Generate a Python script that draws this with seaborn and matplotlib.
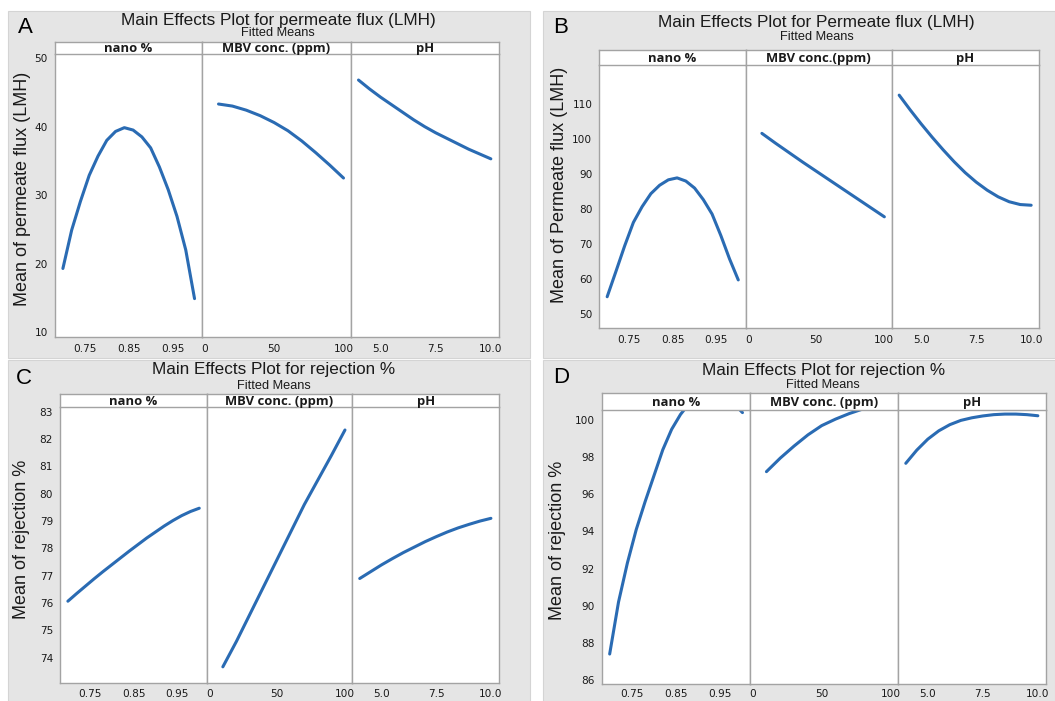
import matplotlib
matplotlib.use("Agg")
import matplotlib.pyplot as plt
import seaborn as sns
import pandas as pd
from matplotlib.patches import Rectangle

# factor levels (x)
nano_levels = [0.70, 0.72, 0.74, 0.76, 0.78, 0.80, 0.82, 0.84,
               0.86, 0.88, 0.90, 0.92, 0.94, 0.96, 0.98, 1.00]
mbv_levels = [10, 20, 30, 40, 50, 60, 70, 80, 90, 100]
ph_levels = [4.0, 4.5, 5.0, 5.5, 6.0, 6.5, 7.0, 7.5, 8.0, 8.5, 9.0, 9.5, 10.0]

# A - permeate flux (LMH)
flux_a_nano = [19.3, 24.9, 29.1, 32.9, 35.7, 38.0, 39.3, 39.85,
               39.5, 38.5, 36.9, 34.1, 30.8, 26.9, 22.0, 14.9]
flux_a_mbv = [43.3, 43.0, 42.4, 41.6, 40.6, 39.4, 37.9, 36.2, 34.4, 32.5]
flux_a_ph = [46.8, 45.5, 44.3, 43.2, 42.1, 41.0, 40.0, 39.1, 38.3, 37.5, 36.7, 36.0, 35.3]

# B - Permeate flux (LMH)
flux_b_nano = [55.0, 62.2, 69.5, 76.2, 80.7, 84.4, 86.8, 88.35,
               88.9, 88.0, 86.0, 82.7, 78.6, 72.5, 65.8, 59.8]
flux_b_mbv = [101.6, 98.8, 96.1, 93.4, 90.8, 88.2, 85.6, 83.0, 80.4, 77.8]
flux_b_ph = [112.5, 108.3, 104.3, 100.5, 96.9, 93.5, 90.4, 87.7, 85.4, 83.5, 82.1, 81.3, 81.1]

# C - rejection %
rej_c_nano = [76.07, 76.35, 76.62, 76.89, 77.15, 77.4, 77.65, 77.9,
              78.14, 78.38, 78.6, 78.82, 79.02, 79.2, 79.35, 79.47]
rej_c_mbv = [73.67, 74.6, 75.6, 76.6, 77.6, 78.6, 79.6, 80.5, 81.4, 82.33]
rej_c_ph = [76.9, 77.15, 77.4, 77.63, 77.85, 78.05, 78.25, 78.43, 78.6, 78.75, 78.88, 79.0, 79.1]

# D - rejection %
rej_d_nano = [87.4, 90.2, 92.3, 94.1, 95.6, 97.0, 98.4, 99.5,
              100.3, 100.9, 101.3, 101.5, 101.5, 101.3, 100.9, 100.4]
rej_d_mbv = [97.22, 97.95, 98.6, 99.2, 99.7, 100.05, 100.35, 100.6, 100.8, 100.95]
rej_d_ph = [97.67, 98.38, 98.97, 99.42, 99.75, 99.98, 100.12, 100.22, 100.29, 100.32, 100.32, 100.29, 100.23]

W, H = 1055, 701
LINE = "#2a6bb3"
FRAME = "#a3a3a3"
BG = "#e5e5e5"
TXT = "#1a1a1a"

sns.set_theme(style="white")
plt.rcParams["font.family"] = ["Liberation Sans", "DejaVu Sans"]


def fx(px):
    return px / W


def fy(py):
    return 1 - py / H


def draw_panel(fig, frame, strip_bot, divs, ylim, yticks, series, strips,
               title, title_xy, sub_y, letter, letter_xy, ylabel, ylabel_xy, xpad=2):
    x0, top, x1, bot = frame
    edges = [x0, divs[0], divs[1], x1]
    xlims = [(0.682, 1.017), (-1.9, 105.4), (3.66, 10.37)]
    xticks = [([0.75, 0.85, 0.95], ["0.75", "0.85", "0.95"]),
              ([0, 50, 100], ["0", "50", "100"]),
              ([5.0, 7.5, 10.0], ["5.0", "7.5", "10.0"])]
    levels = [nano_levels, mbv_levels, ph_levels]
    for i in range(3):
        ax = fig.add_axes([fx(edges[i]), fy(bot), fx(edges[i + 1]) - fx(edges[i]),
                           fy(strip_bot) - fy(bot)])
        df = pd.DataFrame({"level": levels[i], "mean": series[i]})
        sns.lineplot(data=df, x="level", y="mean", ax=ax, color=LINE, lw=2.2)
        ax.set_xlim(*xlims[i])
        ax.set_ylim(*ylim)
        ax.set_xticks(xticks[i][0])
        ax.set_xticklabels(xticks[i][1])
        ax.set_xlabel("")
        ax.set_ylabel("")
        ax.set_facecolor("white")
        for s in ax.spines.values():
            s.set_color(FRAME)
            s.set_linewidth(1.0)
        ax.spines["top"].set_visible(False)
        ax.tick_params(axis="both", direction="out", length=3, width=0.8,
                       color=FRAME, labelsize=7.6, labelcolor=TXT, pad=2)
        ax.tick_params(axis="x", pad=xpad)
        if i == 0:
            ax.set_yticks(yticks)
            ax.set_yticklabels([str(t) for t in yticks])
        else:
            ax.set_yticks([])
        for lab in ax.get_xticklabels() + ax.get_yticklabels():
            lab.set_family("DejaVu Sans")
        ax.grid(False)

        sax = fig.add_axes([fx(edges[i]), fy(strip_bot), fx(edges[i + 1]) - fx(edges[i]),
                            fy(top) - fy(strip_bot)])
        sax.set_facecolor("white")
        sax.set_xticks([])
        sax.set_yticks([])
        for s in sax.spines.values():
            s.set_color(FRAME)
            s.set_linewidth(1.0)
        sax.text(0.5, 0.45, strips[i], ha="center", va="center", fontsize=9.4,
                 fontweight="bold", color=TXT, family=["Open Sans", "DejaVu Sans"],
                 transform=sax.transAxes)

    fig.text(fx(title_xy[0]), fy(title_xy[1]), title, ha="center", va="center",
             fontsize=12.3, color=TXT)
    fig.text(fx(title_xy[0]), fy(sub_y), "Fitted Means", ha="center", va="center",
             fontsize=9.2, color=TXT)
    fig.text(fx(letter_xy[0]), fy(letter_xy[1]), letter, ha="center", va="center",
             fontsize=16, color="black")
    fig.text(fx(ylabel_xy[0]), fy(ylabel_xy[1]), ylabel, ha="center", va="center",
             rotation=90, fontsize=13, color=TXT)


fig = plt.figure(figsize=(W / 100, H / 100), dpi=100)
fig.patch.set_facecolor("white")

# gray panel backgrounds
for (px0, py0, px1, py1) in [(8, 11, 530, 358), (543, 11, 1055, 358),
                             (8, 360, 530, 701), (543, 360, 1055, 701)]:
    fig.patches.append(Rectangle((fx(px0), fy(py1)), fx(px1) - fx(px0), fy(py0) - fy(py1),
                                 transform=fig.transFigure, facecolor=BG,
                                 edgecolor="#d4d4d4", lw=0.8, zorder=-5))

strips_a = ["nano %", "MBV conc. (ppm)", "pH"]
strips_b = ["nano %", "MBV conc.(ppm)", "pH"]

draw_panel(fig, (55, 42, 499, 337), 54, (202, 351), (9.3, 50.6), [10, 20, 30, 40, 50],
           [flux_a_nano, flux_a_mbv, flux_a_ph], strips_a,
           "Main Effects Plot for permeate flux (LMH)", (278, 21), 33.5,
           "A", (25.5, 27.5), "Mean of permeate flux (LMH)", (22.5, 189))

draw_panel(fig, (599.3, 50, 1039.3, 328.3), 65, (745.7, 891.7), (46.0, 121.1),
           [50, 60, 70, 80, 90, 100, 110],
           [flux_b_nano, flux_b_mbv, flux_b_ph], strips_b,
           "Main Effects Plot for Permeate flux (LMH)", (816.7, 22), 37,
           "B", (561, 27.5), "Mean of Permeate flux (LMH)", (559.5, 185))

draw_panel(fig, (60, 394.3, 499, 682.7), 407.3, (206.7, 352.3), (73.09, 83.16),
           [74, 75, 76, 77, 78, 79, 80, 81, 82, 83],
           [rej_c_nano, rej_c_mbv, rej_c_ph], strips_a,
           "Main Effects Plot for rejection %", (274, 369.5), 386.3,
           "C", (24, 379), "Mean of rejection %", (21.7, 539), xpad=1.5)

draw_panel(fig, (601.7, 393.3, 1046, 684.3), 410, (750, 898.3), (85.77, 100.54),
           [86, 88, 90, 92, 94, 96, 98, 100],
           [rej_d_nano, rej_d_mbv, rej_d_ph], strips_a,
           "Main Effects Plot for rejection %", (823.3, 370.3), 385,
           "D", (561, 377.5), "Mean of rejection %", (557.7, 540), xpad=0.5)

fig.savefig("out.png", dpi=100, facecolor="white")
